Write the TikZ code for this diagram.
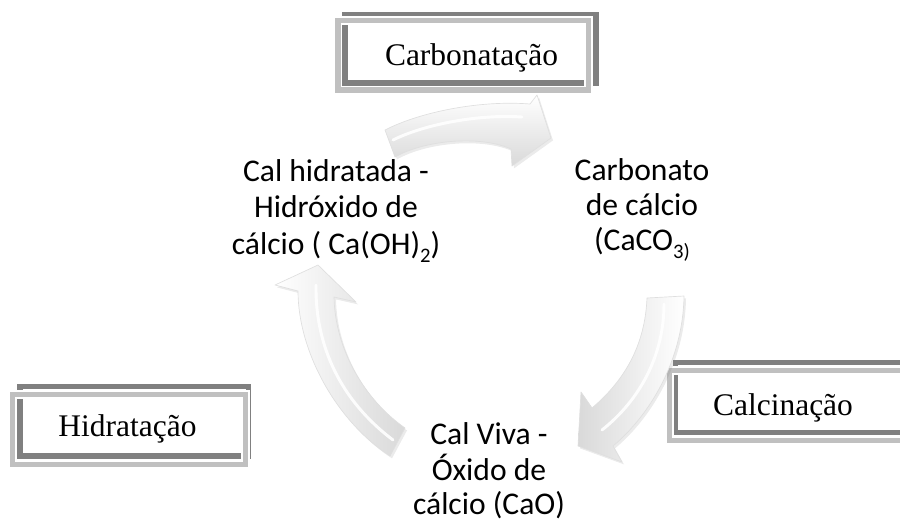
\documentclass[tikz,border=0pt]{standalone}
\usepackage{fontspec}
\usetikzlibrary{shadows}
\newfontfamily\calib{Carlito}
\newfontfamily\timesf{Liberation Serif}
\definecolor{frdark}{HTML}{808080}
\definecolor{frlight}{HTML}{C0C0C0}
\definecolor{arrgray}{HTML}{D9D9D9}
\newcommand\mysub[1]{\raisebox{-0.25em}{\fontsize{15.5}{16}\selectfont #1}}
\begin{document}
\begin{tikzpicture}[x=0.75pt,y=-0.75pt,
  darkframe/.style={draw=frdark,line width=4.1pt},
  lightframe/.style={draw=frlight,line width=3.9pt,preaction={draw=white,line width=6.6pt}},
  boxlabel/.style={inner sep=0pt,anchor=base,font=\timesf\fontsize{23.6}{28}\selectfont},
  cyclabel/.style={inner sep=0pt,anchor=base},
  cycarrow/.style={draw=gray!25,line width=0.5pt,line join=round,
    drop shadow={opacity=0.16,shadow xshift=1.5pt,shadow yshift=-1.8pt}},
  bevel/.style={draw=white,line width=2.2pt,opacity=0.9,line cap=round}
]
\useasboundingbox (0,0) rectangle (900,522);

% frames
\draw[darkframe] (345,14.5) rectangle (596,83);
\draw[lightframe] (338,20.5) rectangle (588.5,90);
\draw[darkframe] (675.5,362.5) rectangle (912,432.5);
\draw[lightframe] (669.5,370.5) rectangle (906,440.5);
\draw[darkframe] (20,386.5) rectangle (248.5,456);
\draw[lightframe] (12.5,394.5) rectangle (245.5,464.5);

\node[boxlabel] (tcarb) at (471.5,65) {Carbonatação};
\node[boxlabel] (tcalc) at (783,415) {Calcinação};
\node[boxlabel] (thid) at (127.5,436) {Hidratação};

% cycle arrows
\path[cycarrow,top color=white,bottom color=arrgray]
  (385,130) .. controls (420,112) and (480,100) .. (530,104) -- (537,95) -- (551,138) -- (512,166) -- (511,149)
  .. controls (480,135) and (425,140) .. (395,157) -- cycle;
\draw[bevel] (393,140) .. controls (425,124) and (480,114) .. (522,117);
\path[cycarrow,right color=white,left color=arrgray]
  (647,298) -- (684,296) .. controls (683,360) and (650,415) .. (613,446) -- (622,462) -- (578,446) -- (581,392) -- (592,408)
  .. controls (625,380) and (645,345) .. (647,298) -- cycle;
\draw[bevel] (664,304) .. controls (664,355) and (640,400) .. (602,430);
\path[cycarrow,left color=white,right color=arrgray]
  (318,265) -- (356,302) -- (334,297) .. controls (335,350) and (365,400) .. (405,428) -- (390,456)
  .. controls (335,420) and (298,350) .. (298,291) -- (275,285) -- cycle;
\draw[bevel] (316,285) .. controls (315,345) and (340,400) .. (393,440);

% cycle labels
\node[cyclabel,font=\calib\fontsize{23.7}{27.7}\selectfont] (hid) at (336,181)
  {\begin{tabular}[t]{@{}c@{}}Cal hidratada -\\Hidróxido de\\cálcio ( Ca(OH)\mysub{2})\end{tabular}};
\node[cyclabel,font=\calib\fontsize{23.7}{26.3}\selectfont] (carb) at (642,180)
  {\begin{tabular}[t]{@{}c@{}}Carbonato\\de cálcio\\(CaCO\mysub{3)}\end{tabular}};
\node[cyclabel,font=\calib\fontsize{23.7}{25.3}\selectfont] (cao) at (489,444)
  {\begin{tabular}[t]{@{}c@{}}Cal Viva -\\Óxido de\\cálcio (CaO)\end{tabular}};
\end{tikzpicture}
\end{document}
